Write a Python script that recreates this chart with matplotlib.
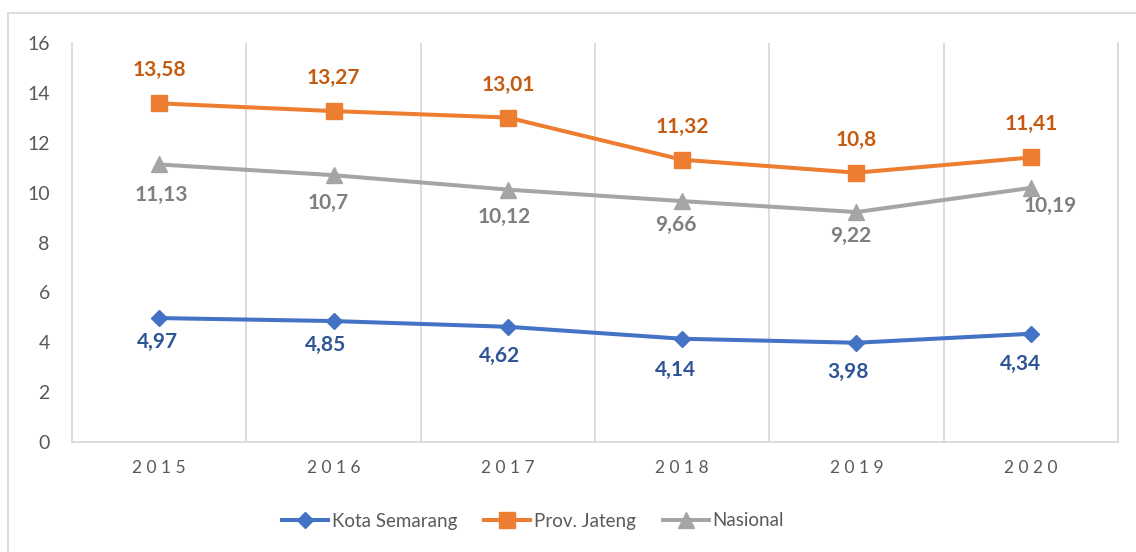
import matplotlib
matplotlib.use("Agg")
import matplotlib.pyplot as plt
from matplotlib.lines import Line2D

years = ["2015", "2016", "2017", "2018", "2019", "2020"]
kota = [4.97, 4.85, 4.62, 4.14, 3.98, 4.34]
jateng = [13.58, 13.27, 13.01, 11.32, 10.8, 11.41]
nasional = [11.13, 10.7, 10.12, 9.66, 9.22, 10.19]
series_names = ["Kota Semarang", "Prov. Jateng", "Nasional"]

# label offsets in pixels (dx, dy), layout only
kota_off = [(-2, -24), (-8, -24), (-8, -29), (-7, -31), (-8, -29.5), (-10, -30)]
jateng_off = [(0, 33)] * 6
nas_off = [(2, -31), (-5, -27.5), (-4, -27.5), (-6, -24), (-6, -24), (19, -18)]

plt.rcParams['font.family'] = ['Lato', 'DejaVu Sans']

fig = plt.figure(figsize=(11.36, 5.52), dpi=100)
ax = fig.add_axes([72/1136, 1-442/552, (1118-72)/1136, (442-43)/552])

x = list(range(len(years)))
c_blue, c_orange, c_gray = "#4472C4", "#ED7D31", "#A5A5A5"
lw = 2.9
ax.plot(x, kota, color=c_blue, lw=lw, marker="D", markersize=8.2, label=series_names[0], zorder=3)
ax.plot(x, jateng, color=c_orange, lw=lw, marker="s", markersize=11, label=series_names[1], zorder=3)
ax.plot(x, nasional, color=c_gray, lw=lw, marker="^", markersize=12, label=series_names[2], zorder=3)

def fmt(v):
    s = f"{v:.2f}".rstrip("0").rstrip(".")
    return s.replace(".", ",")

px2pt = 72/100
for vals, offs, col in [(kota, kota_off, "#2F5597"), (jateng, jateng_off, "#C55A11"), (nasional, nas_off, "#7F7F7F")]:
    for i, v in enumerate(vals):
        ax.annotate(fmt(v), (i, v), xytext=(offs[i][0]*px2pt, offs[i][1]*px2pt), textcoords="offset points",
                    ha="center", va="center", fontsize=15, fontweight="bold", color=col, zorder=4)

ax.set_xlim(-0.5, 5.5)
ax.set_ylim(0, 16)
ax.set_yticks(range(0, 17, 2))
ax.set_xticks(x)
ax.set_xticklabels([" ".join(y) for y in years])
ax.set_xticks([i + 0.5 for i in range(5)], minor=True)
ax.grid(True, which="minor", axis="x", color="#D9D9D9", lw=1.3)
ax.tick_params(axis="both", which="both", length=0)
ax.tick_params(axis="y", pad=16, labelsize=14, labelcolor="#595959")
ax.tick_params(axis="x", pad=13, labelsize=12.5, labelcolor="#595959")
ax.spines["top"].set_visible(False)
for s in ["left", "right", "bottom"]:
    ax.spines[s].set_color("#D9D9D9")
    ax.spines[s].set_linewidth(1.3)

leg = fig.legend(loc="center", bbox_to_anchor=(533/1136, 1-521/552), ncol=3, frameon=False,
                 fontsize=13.5, handlelength=2.45, handletextpad=0.2, columnspacing=1.45)
for t in leg.get_texts():
    t.set_color("#595959")

fig.add_artist(Line2D([8/1136, 8/1136], [0, 1-13/552], color="#D9D9D9", lw=1.3, transform=fig.transFigure))
fig.add_artist(Line2D([8/1136, 1], [1-13/552, 1-13/552], color="#D9D9D9", lw=1.3, transform=fig.transFigure))

fig.savefig("out.png", dpi=100)
